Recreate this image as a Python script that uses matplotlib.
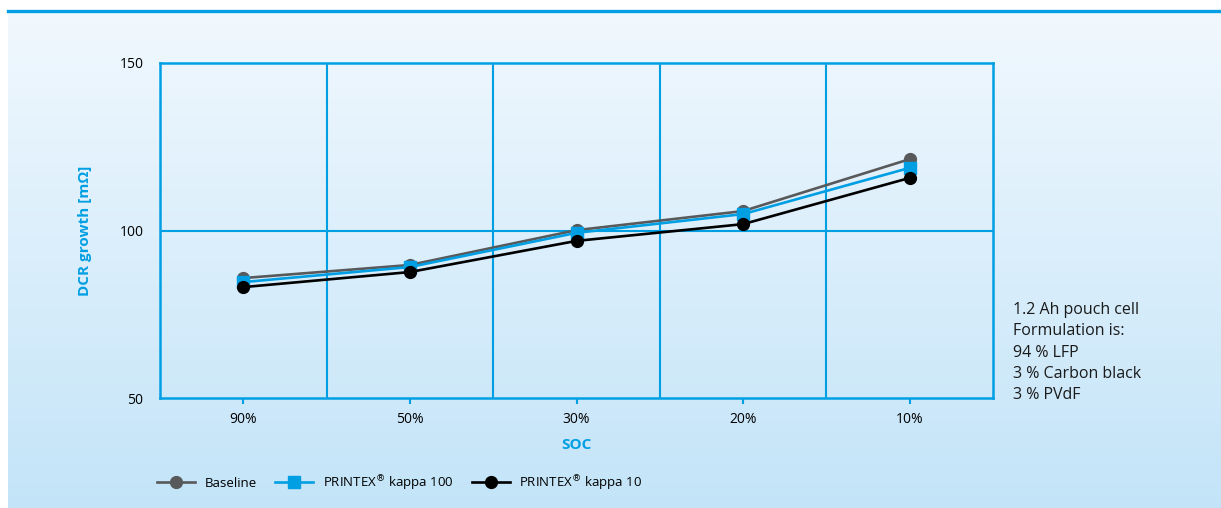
import numpy as np
import matplotlib.pyplot as plt
from matplotlib.lines import Line2D

# Data
soc_labels = ['90%', '50%', '30%', '20%', '10%']
baseline = [85.8, 89.7, 100.1, 105.8, 121.3]
kappa_100 = [84.6, 89.1, 99.3, 104.9, 118.7]
kappa_10 = [83.1, 87.6, 96.9, 101.9, 115.7]
note_lines = ['1.2 Ah pouch cell', 'Formulation is:', '94 % LFP',
              '3 % Carbon black', '3 % PVdF']

BLUE = '#009fe3'
W, H = 1221, 508

plt.rcParams['font.family'] = ['Open Sans', 'DejaVu Sans']
plt.rcParams['mathtext.fontset'] = 'dejavusans'

fig = plt.figure(figsize=(W / 100, H / 100), dpi=100)
fig.patch.set_facecolor('white')

# gradient background panel
bg = fig.add_axes([8 / W, 0, 1 - 8 / W, (H - 12) / H])
grad = np.linspace(0, 1, 256).reshape(-1, 1)
top = np.array([0.945, 0.973, 0.996])
bot = np.array([0.765, 0.894, 0.973])
img = top + (bot - top) * grad[:, :, None]
bg.imshow(img, aspect='auto', extent=[0, 1, 0, 1])
bg.set_axis_off()

# top blue rule
fig.add_artist(Line2D([8 / W, 1], [(H - 11) / H] * 2, color=BLUE, lw=2.4,
                      transform=fig.transFigure))

ax = fig.add_axes([160 / W, (H - 398) / H, (993 - 160) / W, (398 - 63) / H])
ax.set_facecolor('none')

x = np.arange(len(soc_labels))
ax.plot(x, baseline, color='#58595b', lw=1.9, marker='o', ms=8.5, label='Baseline', zorder=3)
ax.plot(x, kappa_100, color=BLUE, lw=1.9, marker='s', ms=8,
        label='PRINTEX$^{®}$ kappa 100', zorder=4)
ax.plot(x, kappa_10, color='black', lw=1.9, marker='o', ms=8.5,
        label='PRINTEX$^{®}$ kappa 10', zorder=5)

ax.set_xlim(-0.5, len(soc_labels) - 0.5)
ax.set_ylim(50, 150)
ax.set_xticks(x)
ax.set_xticklabels(soc_labels, fontsize=10)
ax.set_yticks([50, 100, 150])
ax.tick_params(axis='y', length=0, pad=12, labelsize=10)
ax.tick_params(axis='x', length=4, width=1.5, color=BLUE, pad=6)

for xv in np.arange(0.5, len(soc_labels) - 0.5, 1):
    ax.axvline(xv, color=BLUE, lw=1.5, zorder=1)
ax.axhline(100, color=BLUE, lw=1.5, zorder=1)
for s in ax.spines.values():
    s.set_color(BLUE)
    s.set_linewidth(1.8)

ax.set_ylabel('DCR growth [mΩ]', color=BLUE, fontweight='bold', fontsize=11, labelpad=20)
ax.set_xlabel('SOC', color=BLUE, fontweight='bold', fontsize=11, labelpad=8)

fig.text(1013 / W, (H - 302) / H, '\n'.join(note_lines), fontsize=11.5,
         va='top', ha='left', linespacing=1.44, color='#1a1a1a')

fig.legend(loc='center left', bbox_to_anchor=(145 / W, (H - 483) / H), ncol=3,
           frameon=False, fontsize=9.5, handlelength=2.9, columnspacing=1.4,
           handletextpad=0.7, markerscale=1.0)

fig.savefig('out.png', dpi=100)
